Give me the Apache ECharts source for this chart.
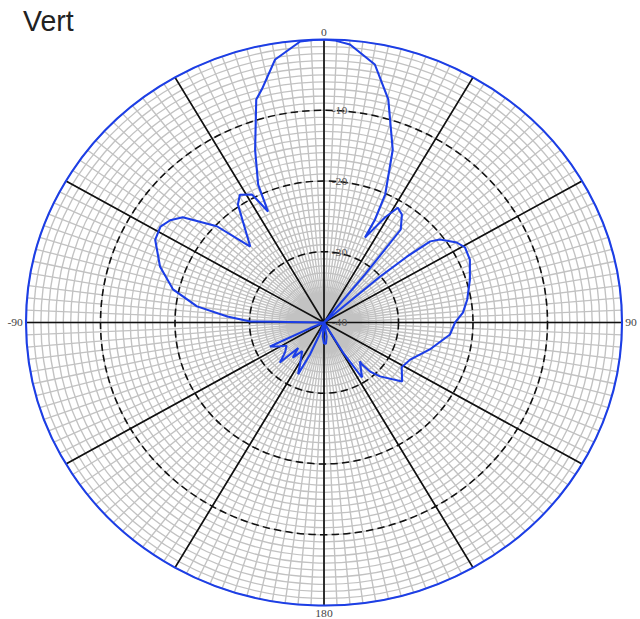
<!DOCTYPE html>
<html>
<head>
<meta charset="utf-8">
<script src="https://cdn.jsdelivr.net/npm/echarts@6/dist/echarts.min.js"></script>
<style>
html,body{margin:0;padding:0;background:#fff;overflow:hidden;}
#chart{width:608px;height:619px;transform:scaleX(1.053);transform-origin:0 0;}
</style>
</head>
<body>
<div id="chart"></div>
<script>
// Pattern data: angle in degrees (clockwise from top), gain in dB (traced in order)
const angles = [-180,-175,-170,-165,-160,-157.4,-154.6,-149,-144,-139.9,-136,-133.7,-130,-128.1,-123,-119,-115.1,-113,-110,-100,-92,-90,-89.2,-86.3,-82.4,-77,-70.2,-62.7,-58.3,-55,-51.9,-46.6,-42.7,-34.7,-32,-28.1,-25.6,-24.4,-20.75,-16.1,-14.2,-10,-4.6,-2,0,2,5.07,10.6,15.3,20.7,24.4,25.2,24.6,28.9,31.4,34.4,38.1,39.05,40,44,49.2,50.1,51.2,53,57.6,60.7,65.6,72.8,80.4,85.7,89.9,95.7,105,114.4,121.3,128.5,135.4,138.3,139.3,138.8,146.7,149,152,160,170,175,180];
const gains  = [-37,-38,-40,-40,-38,-35.1,-31.9,-34,-35,-33.5,-35,-31.8,-33,-33.4,-34,-33,-32,-38,-40,-40,-40,-40,-30.1,-27,-22.8,-19.2,-16.6,-14.5,-14.2,-14.8,-15.9,-20.2,-25.4,-19.7,-18.7,-19.5,-22.6,-18.6,-13.9,-7.2,-6.0,-2.25,-0.15,-0.05,0,-0.1,-0.56,-2.9,-7.3,-13.9,-20.1,-23.9,-26.8,-23.0,-21.0,-21.5,-23.3,-31.3,-40,-40,-30.1,-25.5,-21.7,-20.5,-18.9,-18.3,-18.5,-19.5,-20.5,-21.3,-22.4,-23,-25.3,-27.3,-27.8,-26.6,-29.3,-30.7,-32.2,-32.7,-30.7,-35,-40,-40,-38,-37,-37];
const radiusTicks = [-40,-30,-20,-10,0];
const angleLabels = {0:'0',90:'90',180:'180',270:'-90'};
const titleText = 'Vert';

const seriesData = angles.map((a,i)=>[gains[i], (a+360)%360]);

const chart = echarts.init(document.getElementById('chart'), null, {renderer:'svg'});
const C = [307.7,322.5], R = 283;
const serif = 'Liberation Serif';
const blue = '#1c3ee6';
chart.setOption({
  animation:false,
  graphic:[{type:'text',left:21.8,top:6.5,scaleX:0.934,z:10,
    style:{text:titleText,font:'29px "Liberation Sans"',fill:'#222'}}],
  polar:[{center:C,radius:R},{center:C,radius:R}],
  angleAxis:[
    {polarIndex:0,type:'value',min:0,max:360,interval:2.5,startAngle:90,clockwise:true,z:0,
     axisLine:{show:false},axisTick:{show:false},axisLabel:{show:false},
     splitLine:{show:true,lineStyle:{color:'#c2c2c2',width:1.3}}},
    {polarIndex:1,type:'value',min:0,max:360,interval:30,startAngle:90,clockwise:true,z:2,
     axisLine:{show:true,lineStyle:{color:blue,width:2}},axisTick:{show:false},
     axisLabel:{show:true,margin:3,fontFamily:serif,fontSize:11,lineHeight:9,color:'#444',
       formatter:v=>angleLabels[v]!==undefined?angleLabels[v]:''},
     splitLine:{show:true,lineStyle:{color:'#111',width:1.6}}}
  ],
  radiusAxis:[
    {polarIndex:0,type:'value',min:-40,max:0,interval:1,z:0,
     axisLine:{show:false},axisTick:{show:false},axisLabel:{show:false},
     splitLine:{show:true,lineStyle:{color:'#c2c2c2',width:1.3}}},
    {polarIndex:1,type:'value',min:-40,max:0,interval:10,z:2,
     axisLine:{show:false},axisTick:{show:false},
     axisLabel:{show:true,margin:-22,fontFamily:serif,fontSize:11,color:'#555',padding:[10,0,0,0],
       formatter:v=>v===0?'':String(v)},
     splitLine:{show:true,lineStyle:{color:['rgba(0,0,0,0)','#111','#111','#111','rgba(0,0,0,0)'],width:1.5,type:[7,4]}}}
  ],
  series:[{
    type:'line',coordinateSystem:'polar',polarIndex:1,data:seriesData,
    showSymbol:false,symbol:'none',smooth:false,z:5,
    lineStyle:{color:blue,width:2}
  }]
});
</script>
</body>
</html>
